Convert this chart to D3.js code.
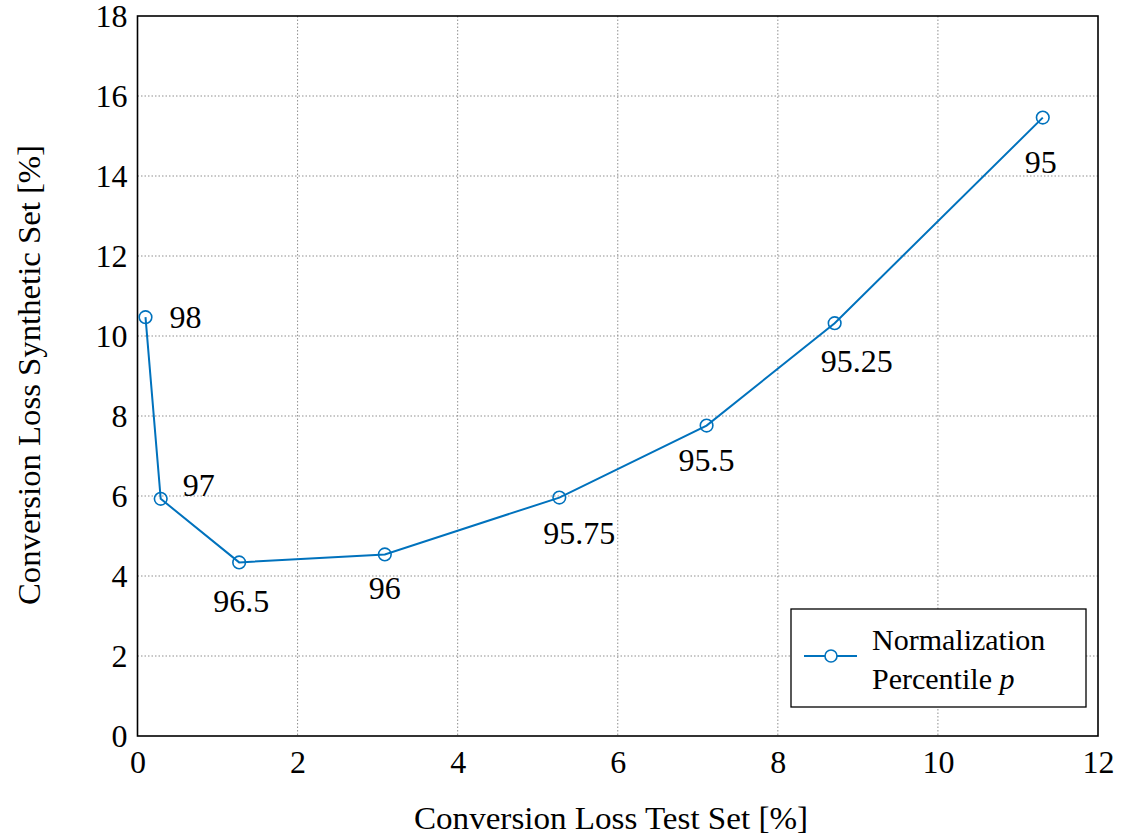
<!DOCTYPE html>
<html><head><meta charset="utf-8">
<script src="https://cdn.jsdelivr.net/npm/d3@7"></script>
<style>body{margin:0;background:#fff}svg{display:block}</style>
</head><body>
<svg id="c" width="1129" height="838"></svg>
<script>
const xValues = [0.10, 0.29, 1.27, 3.09, 5.27, 7.11, 8.71, 11.31];
const yValues = [10.47, 5.93, 4.34, 4.54, 5.96, 7.76, 10.32, 15.46];
const pointLabels = ["98", "97", "96.5", "96", "95.75", "95.5", "95.25", "95"];
const xTicks = [0, 2, 4, 6, 8, 10, 12];
const yTicks = [0, 2, 4, 6, 8, 10, 12, 14, 16, 18];
const xTitle = "Conversion Loss Test Set [%]";
const yTitle = "Conversion Loss Synthetic Set [%]";
const legendLines = ["Normalization", "Percentile "];

const FONT = '"Liberation Serif", "Times New Roman", serif';
const color = "#0072BD";
const svg = d3.select("#c");
const L = 137.5, R = 1098, T = 16, B = 736;
const x = d3.scaleLinear().domain([0, 12]).range([L, R]);
const y = d3.scaleLinear().domain([0, 18]).range([B, T]);

// grid
const g = svg.append("g");
g.selectAll(".gx").data(xTicks.slice(1, -1)).enter().append("line")
  .attr("x1", d => x(d)).attr("x2", d => x(d)).attr("y1", T).attr("y2", B)
  .attr("stroke", "#8f8f8f").attr("stroke-width", 1).attr("stroke-dasharray", "1.5,2");
g.selectAll(".gy").data(yTicks.slice(1, -1)).enter().append("line")
  .attr("y1", d => y(d)).attr("y2", d => y(d)).attr("x1", L).attr("x2", R)
  .attr("stroke", "#8f8f8f").attr("stroke-width", 1).attr("stroke-dasharray", "1.5,2");

// axes with tick labels
const xAxis = d3.axisBottom(x).tickValues(xTicks).tickSize(0).tickPadding(12);
const yAxis = d3.axisLeft(y).tickValues(yTicks).tickSize(0).tickPadding(10);
const ax = svg.append("g").attr("transform", `translate(0,${B})`).call(xAxis);
const ay = svg.append("g").attr("transform", `translate(${L},0)`).call(yAxis);
[ax, ay].forEach(a => {
  a.attr("font-family", null).attr("font-size", null);
  a.select(".domain").remove();
  a.selectAll("text").style("font-family", FONT).style("font-size", "32px").attr("fill", "#000");
});
ax.selectAll("text").attr("dy", "0.71em").attr("y", 14);
ay.selectAll("text").attr("dy", "0.34em");

// box
svg.append("rect").attr("x", L).attr("y", T).attr("width", R - L).attr("height", B - T)
  .attr("fill", "none").attr("stroke", "#000").attr("stroke-width", 1.6);

// data
const pts = xValues.map((v, i) => ({x: v, y: yValues[i], l: pointLabels[i]}));
svg.append("path").datum(pts)
  .attr("d", d3.line().x(d => x(d.x)).y(d => y(d.y)))
  .attr("fill", "none").attr("stroke", color).attr("stroke-width", 2);
svg.selectAll(".m").data(pts).enter().append("circle")
  .attr("cx", d => x(d.x)).attr("cy", d => y(d.y)).attr("r", 6.3)
  .attr("fill", "none").attr("stroke", color).attr("stroke-width", 1.6);

// point labels (offsets in px)
const offs = [[24, 11, "start"], [22, -3, "start"], [2, 50, "middle"], [0, 45, "middle"],
              [20, 46, "middle"], [0, 45, "middle"], [22, 49, "middle"], [-2, 55, "middle"]];
svg.selectAll(".pl").data(pts).enter().append("text")
  .attr("x", (d, i) => x(d.x) + offs[i][0]).attr("y", (d, i) => y(d.y) + offs[i][1])
  .attr("text-anchor", (d, i) => offs[i][2]).style("font-family", FONT).style("font-size", "32px").text(d => d.l);

// titles
svg.append("text").attr("x", 611).attr("y", 829).attr("text-anchor", "middle")
  .attr("textLength", 394).attr("lengthAdjust", "spacingAndGlyphs")
  .style("font-family", FONT).style("font-size", "32px").text(xTitle);
svg.append("text").attr("transform", `translate(40,${375}) rotate(-90)`).attr("text-anchor", "middle")
  .attr("textLength", 460).attr("lengthAdjust", "spacingAndGlyphs")
  .style("font-family", FONT).style("font-size", "32px").text(yTitle);

// legend
const lg = svg.append("g");
lg.append("rect").attr("x", 791).attr("y", 609).attr("width", 295).attr("height", 98)
  .attr("fill", "#fff").attr("stroke", "#000").attr("stroke-width", 1.3);
lg.append("line").attr("x1", 804).attr("x2", 857).attr("y1", 656).attr("y2", 656)
  .attr("stroke", color).attr("stroke-width", 2);
lg.append("circle").attr("cx", 831).attr("cy", 656).attr("r", 6)
  .attr("fill", "#fff").attr("stroke", color).attr("stroke-width", 1.6);
lg.append("text").attr("x", 872).attr("y", 650).style("font-family", FONT).style("font-size", "30px").text(legendLines[0]);
const t2 = lg.append("text").attr("x", 872).attr("y", 689).style("font-family", FONT).style("font-size", "30px").text(legendLines[1]);
t2.append("tspan").style("font-style", "italic").text("p");
</script>
</body></html>
